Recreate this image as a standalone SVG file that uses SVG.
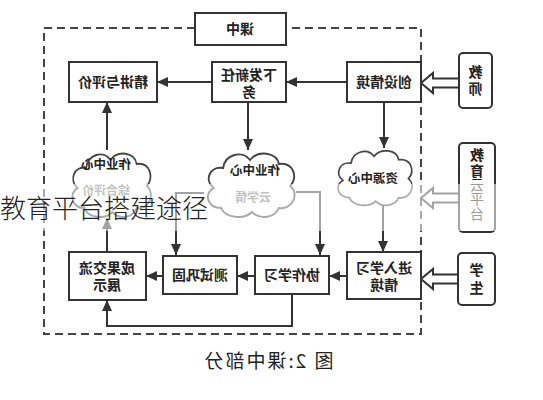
<svg xmlns="http://www.w3.org/2000/svg" xmlns:xlink="http://www.w3.org/1999/xlink" width="543" height="400" viewBox="0 0 543 400">
<style>
.box{fill:#fff;stroke:#333;stroke-width:2}
.src{fill:#fff;stroke:#333;stroke-width:2}
.t{font-family:"Noto Sans CJK SC","Noto Sans",sans-serif;font-size:14px;font-weight:bold;fill:#222;text-anchor:middle}
.tg{font-family:"Noto Sans CJK SC","Noto Sans",sans-serif;font-size:12px;font-weight:bold;fill:#777;text-anchor:middle}
.cap{font-family:"Noto Sans CJK SC","Noto Sans",sans-serif;font-size:19px;fill:#222;text-anchor:middle;letter-spacing:2px}
.ttl{font-family:"Noto Sans CJK SC","Noto Sans",sans-serif;font-size:26px;font-weight:300;fill:#222}
.ln{fill:none;stroke:#333;stroke-width:2;marker-end:url(#ah)}
.frame{fill:none;stroke:#444;stroke-width:2;stroke-dasharray:8 5}
.cloud{fill:#fff;stroke:#444;stroke-width:2}
.hol{fill:#fff;stroke:#333;stroke-width:2;stroke-linejoin:miter}
</style>
<defs>
<marker id="ah" markerUnits="userSpaceOnUse" markerWidth="11" markerHeight="10" refX="11" refY="5" orient="auto">
<path d="M0,0 L11,5 L0,10 z" fill="#333"/>
</marker>
<path id="cl" d="M20,60 C5,60 2,45 12,40 C2,32 8,18 22,20 C24,6 42,2 50,12 C58,2 78,4 80,16 C96,14 100,30 92,38 C102,46 94,62 80,60 C76,70 60,72 52,64 C44,72 24,70 20,60 Z"/>
<path id="hol" d="M0,0 L12,-10 L12,-4.5 L38,-4.5 L38,4.5 L12,4.5 L12,10 Z"/>
</defs>

<path class="frame" d="M195,28 H44 V334 H421 V28 H286"/>

<g id="connectors">
<path class="ln" d="M347,82 H286"/>
<path class="ln" d="M212,82 H157"/>
<path class="ln" d="M384,102 V148"/>
<path class="ln" d="M383,205 V252"/>
<path class="ln" d="M248,102 V150"/>
<path class="ln" d="M296,192 H320 V255"/>
<path class="ln" d="M204,193 H176 V255"/>
<path class="ln" d="M107,150 V102"/>
<path class="ln" d="M107,252 V218"/>
<path class="ln" d="M347,276 H329"/>
<path class="ln" d="M255,276 H237"/>
<path class="ln" d="M163,276 H146"/>
<path class="ln" d="M292,294 V326 H107 V300"/>
<use xlink:href="#hol" class="hol" transform="translate(421,83)"/>
<use xlink:href="#hol" class="hol" transform="translate(421,198)"/>
<use xlink:href="#hol" class="hol" transform="translate(421,279)"/>
</g>

<g id="n-kezhong">
<rect class="box" x="195" y="13" width="91" height="32"/>
<text class="t" x="240" y="34" transform="matrix(-1 0 0 1 480 0)">课中</text>
</g>
<g id="n-jingjiang">
<rect class="box" x="69" y="62" width="88" height="40"/>
<text class="t" x="113" y="87" transform="matrix(-1 0 0 1 226 0)">精讲与评价</text>
</g>
<g id="n-xiafa">
<rect class="box" x="212" y="62" width="74" height="40"/>
<text class="t" x="249" y="80" transform="matrix(-1 0 0 1 498 0)">下发新任</text>
<text class="t" x="249" y="97" transform="matrix(-1 0 0 1 498 0)">务</text>
</g>
<g id="n-chuangshe">
<rect class="box" x="347" y="62" width="74" height="40"/>
<text class="t" x="384" y="87" transform="matrix(-1 0 0 1 768 0)">创设情境</text>
</g>
<g id="n-cloud1">
<use xlink:href="#cl" class="cloud" vector-effect="non-scaling-stroke" transform="translate(67,148) scale(0.87,1)"/>
<text class="t" x="106" y="169" style="font-size:12.5px" transform="matrix(-1 0 0 1 212 0)">作业中心</text>
<text class="tg" x="106" y="195" transform="matrix(-1 0 0 1 212 0)">综合评价</text>
</g>
<g id="n-cloud2">
<use xlink:href="#cl" class="cloud" vector-effect="non-scaling-stroke" transform="translate(202,148) scale(0.96,1)"/>
<text class="t" x="255" y="175" style="font-size:12.5px" transform="matrix(-1 0 0 1 510 0)">作业中心</text>
<text class="tg" x="253" y="202" transform="matrix(-1 0 0 1 506 0)">云学情</text>
</g>
<g id="n-ziyuan">
<use xlink:href="#cl" class="cloud" vector-effect="non-scaling-stroke" transform="translate(333,146) scale(0.82,0.86)"/>
<text class="t" x="373" y="183" style="font-size:12.5px" transform="matrix(-1 0 0 1 746 0)">资源中心</text>
</g>
<g id="n-jinru">
<rect class="box" x="347" y="252" width="74" height="47"/>
<text class="t" x="384" y="273" transform="matrix(-1 0 0 1 768 0)">进入学习</text>
<text class="t" x="384" y="290" transform="matrix(-1 0 0 1 768 0)">情境</text>
</g>
<g id="n-xiezuo">
<rect class="box" x="255" y="256" width="74" height="38"/>
<text class="t" x="292" y="280" transform="matrix(-1 0 0 1 584 0)">协作学习</text>
</g>
<g id="n-ceshi">
<rect class="box" x="163" y="256" width="74" height="38"/>
<text class="t" x="200" y="280" transform="matrix(-1 0 0 1 400 0)">测试巩固</text>
</g>
<g id="n-chengguo">
<rect class="box" x="69" y="252" width="77" height="48"/>
<text class="t" x="107" y="273" transform="matrix(-1 0 0 1 214 0)">成果交流</text>
<text class="t" x="107" y="290" transform="matrix(-1 0 0 1 214 0)">展示</text>
</g>
<g id="n-jiaoshi">
<rect class="src" x="459" y="53" width="33" height="55" rx="4"/>
<text class="t" x="475.5" y="77" transform="matrix(-1 0 0 1 951 0)">教</text>
<text class="t" x="475.5" y="94" transform="matrix(-1 0 0 1 951 0)">师</text>
</g>
<g id="n-yunpingtai">
<rect class="src" x="459" y="143" width="36" height="89" rx="4"/>
<text class="t" x="477" y="160" transform="matrix(-1 0 0 1 954 0)">教</text>
<text class="t" x="477" y="176" transform="matrix(-1 0 0 1 954 0)">育</text>
<text class="t" x="477" y="190" style="font-weight:normal" transform="matrix(-1 0 0 1 954 0)">云</text>
<text class="t" x="477" y="204" style="font-weight:normal" transform="matrix(-1 0 0 1 954 0)">平</text>
<text class="t" x="477" y="219" style="font-weight:normal" transform="matrix(-1 0 0 1 954 0)">台</text>
</g>
<g id="n-xuesheng">
<rect class="src" x="458" y="253" width="37" height="52" rx="4"/>
<text class="t" x="476.5" y="275" transform="matrix(-1 0 0 1 953 0)">学</text>
<text class="t" x="476.5" y="293" transform="matrix(-1 0 0 1 953 0)">生</text>
</g>

<text class="cap" x="268" y="368" transform="matrix(-1 0 0 1 536 0)">图 2:课中部分</text>

<rect x="0" y="184" width="543" height="47" fill="#fff" opacity="0.55"/>
<text class="ttl" x="0" y="218">教育平台搭建途径</text>
</svg>
